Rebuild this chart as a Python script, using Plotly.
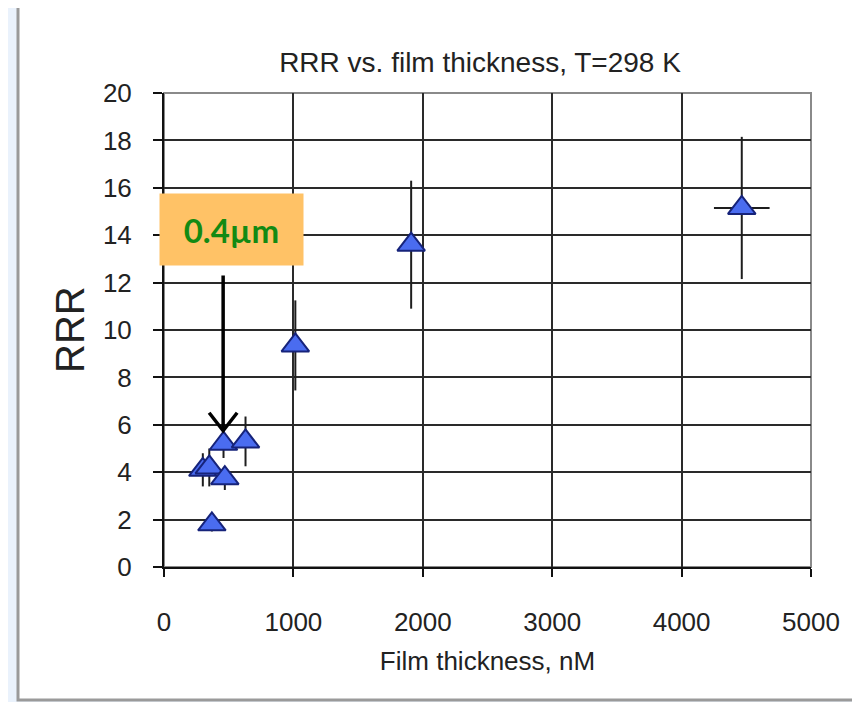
import plotly.graph_objects as go

# Data
thickness_nm = [300, 350, 370, 460, 470, 630, 1015, 1910, 4465]
rrr = [4.1, 4.2, 1.8, 5.2, 3.75, 5.3, 9.35, 13.6, 15.15]
rrr_err = [0.7, 0.8, 0.3, 0.6, 0.5, 1.05, 1.9, 2.7, 3.0]
thickness_err = [0, 0, 0, 0, 0, 0, 0, 0, 215]

x_ticks = [0, 1000, 2000, 3000, 4000, 5000]
y_ticks = [0, 2, 4, 6, 8, 10, 12, 14, 16, 18, 20]

title_text = "RRR vs. film thickness, T=298 K"
x_title = "Film thickness, nM"
y_title = "RRR"
callout_text = "0.4µm"
callout_x = 457      # thickness the arrow points to
callout_tail_y = 12.3
callout_head_y = 5.75

font_main = "Liberation Sans, Arial, sans-serif"

# page body has an 8px margin; figure is sized/offset to compensate
W, H = 852, 694

fig = go.Figure()
fig.add_trace(go.Scatter(
    x=thickness_nm, y=rrr, mode="markers",
    marker=dict(symbol="triangle-up", size=24, color="#4a6cf0",
                line=dict(color="#16237a", width=2)),
    error_y=dict(type="data", array=rrr_err, color="#1e1e1e", thickness=2, width=0),
    error_x=dict(type="data", array=thickness_err, color="#1e1e1e", thickness=2, width=0),
    showlegend=False,
))

fig.update_layout(
    width=W, height=H,
    margin=dict(l=156, r=49, t=85, b=135),
    paper_bgcolor="#eaf2fc",
    plot_bgcolor="white",
    title=dict(text=title_text, x=472 / W, xanchor="center", xref="container",
               y=1 - 54 / H, yanchor="middle", yref="container",
               font=dict(family=font_main, size=28, color="#222")),
    xaxis=dict(range=[0, 5000], tickvals=x_ticks, ticks="outside", ticklen=8,
               tickwidth=2, tickcolor="#111", showgrid=True, gridcolor="#2a2a2a",
               gridwidth=1.8, showline=True, linecolor="#111", linewidth=2,
               zeroline=False, ticklabelstandoff=23,
               tickfont=dict(family=font_main, size=26, color="#222")),
    yaxis=dict(range=[0, 20], tickvals=y_ticks, ticks="outside", ticklen=9,
               tickwidth=2, tickcolor="#111", showgrid=True, gridcolor="#2a2a2a",
               gridwidth=1.8, showline=True, linecolor="#111", linewidth=2,
               zeroline=False, ticklabelstandoff=16,
               tickfont=dict(family=font_main, size=26, color="#222")),
)
fig.update_xaxes(title=dict(text=x_title, standoff=16,
                            font=dict(family=font_main, size=26, color="#222")))

# y-axis title placed as rotated text
fig.add_annotation(x=(70 - 164) / 647, y=0.5, xref="paper", yref="paper",
                   text=y_title, textangle=-90, showarrow=False,
                   xanchor="center", yanchor="middle",
                   font=dict(family=font_main, size=40, color="#222"))

# White panel with gray frame
fig.add_shape(type="rect", xref="paper", yref="paper",
              x0=(18 - 164) / 647, x1=(858 - 164) / 647,
              y0=(567 - 700) / 474, y1=(567 - 4) / 474,
              line=dict(color="#9a9a9a", width=3), fillcolor="white", layer="below")
# gray frame of plot area (top/right)
fig.add_shape(type="rect", xref="paper", yref="paper", x0=0, x1=1, y0=0, y1=1,
              line=dict(color="#8a8a8a", width=2), layer="below")

# Callout box
fig.add_annotation(x=522, y=14.24, xref="x", yref="y", text="<b>" + callout_text + "</b>",
                   showarrow=False, bgcolor="#ffc266", width=143, height=71,
                   borderpad=0, align="center", valign="middle",
                   font=dict(family="Lato, Noto Sans, sans-serif", size=33, color="#138a13"))

# Arrow
fig.add_shape(type="line", xref="x", yref="y", x0=callout_x, x1=callout_x,
              y0=callout_tail_y, y1=callout_head_y + 0.05, line=dict(color="black", width=3.5))
fig.add_shape(type="path", xref="x", yref="y", xsizemode="pixel", ysizemode="pixel",
              xanchor=callout_x, yanchor=callout_head_y,
              path="M -14,18 L 0,0 L 14,18", line=dict(color="black", width=3.5))

fig.write_html("out.html")
